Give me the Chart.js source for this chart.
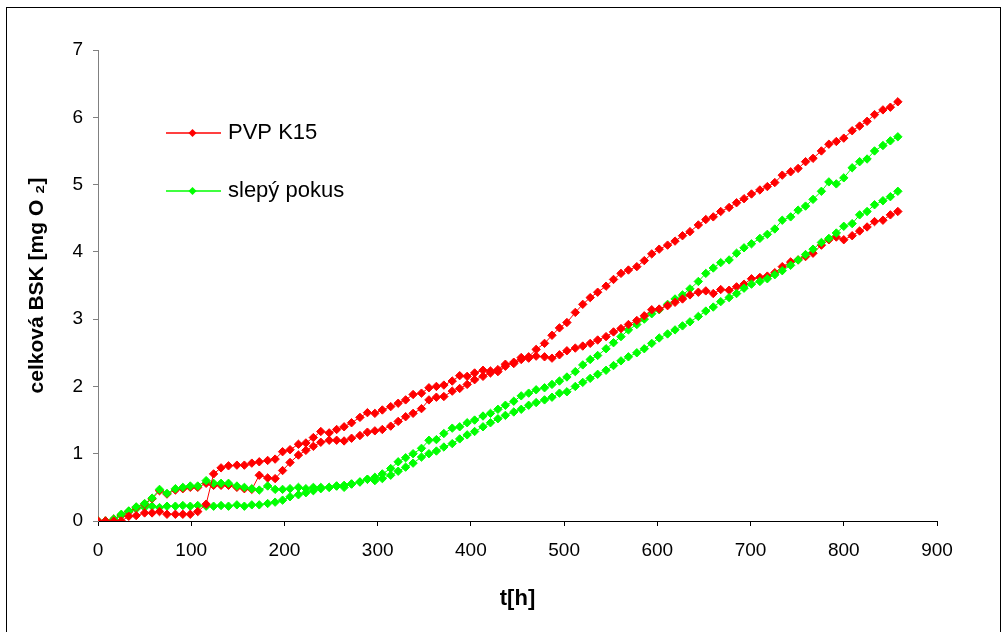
<!DOCTYPE html>
<html>
<head>
<meta charset="utf-8">
<title>celková BSK</title>
<script src="https://cdn.jsdelivr.net/npm/chart.js@4.4.1/dist/chart.umd.min.js"></script>
<style>
    html, body { margin: 0; padding: 0; background: #fff; }
    #frame { position: absolute; left: 6px; top: 7px; width: 995px; height: 660px; border: 1px solid #000; box-sizing: border-box; }
    #wrap { position: absolute; left: 0; top: 0; width: 1006px; height: 632px; }
</style>
</head>
<body>
<div id="frame"></div>
<div id="wrap"><canvas id="bskChart" width="1006" height="632"></canvas></div>
<script>
// čas měření [h]
const hours = [
    0, 8, 17, 25, 33, 41, 50, 58, 66, 74,
    83, 91, 99, 107, 116, 124, 132, 140, 149, 157,
    165, 173, 182, 190, 198, 206, 215, 223, 231, 239,
    248, 256, 264, 272, 281, 289, 297, 305, 314, 322,
    330, 338, 347, 355, 363, 371, 380, 388, 396, 404,
    413, 421, 429, 437, 446, 454, 462, 470, 479, 487,
    495, 503, 512, 520, 528, 536, 545, 553, 561, 569,
    578, 586, 594, 602, 611, 619, 627, 635, 644, 652,
    660, 668, 677, 685, 693, 701, 710, 718, 726, 734,
    743, 751, 759, 767, 776, 784, 792, 800, 809, 817,
    825, 833, 842, 850, 858
];

// PVP K15 - dvě paralelní lahve
const pvpA = [
    0, 0, 0, 0, 0.07, 0.08, 0.12, 0.12, 0.14, 0.10,
    0.10, 0.10, 0.10, 0.14, 0.25, 0.70, 0.79, 0.82, 0.83, 0.83,
    0.86, 0.88, 0.90, 0.92, 1.03, 1.06, 1.14, 1.16, 1.24, 1.33,
    1.31, 1.36, 1.40, 1.46, 1.54, 1.61, 1.60, 1.65, 1.70, 1.75,
    1.80, 1.88, 1.90, 1.98, 2.00, 2.02, 2.08, 2.16, 2.15, 2.20,
    2.24, 2.23, 2.25, 2.33, 2.36, 2.43, 2.44, 2.55, 2.64, 2.76,
    2.87, 2.95, 3.10, 3.22, 3.32, 3.40, 3.49, 3.59, 3.68, 3.73,
    3.78, 3.87, 3.97, 4.04, 4.10, 4.16, 4.24, 4.30, 4.40, 4.48,
    4.52, 4.60, 4.66, 4.73, 4.79, 4.86, 4.92, 4.97, 5.03, 5.14,
    5.19, 5.24, 5.34, 5.39, 5.50, 5.60, 5.64, 5.69, 5.80, 5.87,
    5.94, 6.04, 6.11, 6.15, 6.23
];
const pvpB = [
    0, 0, 0.03, 0.09, 0.14, 0.20, 0.25, 0.33, 0.45, 0.40,
    0.46, 0.48, 0.50, 0.50, 0.56, 0.53, 0.53, 0.53, 0.50, 0.48,
    0.47, 0.68, 0.64, 0.63, 0.75, 0.87, 0.98, 1.05, 1.11, 1.17,
    1.20, 1.20, 1.19, 1.23, 1.27, 1.32, 1.34, 1.36, 1.41, 1.48,
    1.55, 1.60, 1.67, 1.80, 1.84, 1.85, 1.93, 1.97, 2.03, 2.10,
    2.15, 2.20, 2.22, 2.30, 2.34, 2.40, 2.42, 2.45, 2.44, 2.42,
    2.47, 2.53, 2.57, 2.60, 2.64, 2.69, 2.74, 2.81, 2.86, 2.92,
    2.98, 3.05, 3.14, 3.15, 3.20, 3.25, 3.30, 3.36, 3.40, 3.42,
    3.38, 3.44, 3.43, 3.48, 3.52, 3.60, 3.62, 3.64, 3.69, 3.78,
    3.85, 3.88, 3.93, 3.98, 4.10, 4.18, 4.22, 4.18, 4.24, 4.31,
    4.37, 4.45, 4.47, 4.55, 4.60
];

// slepý pokus - dvě paralelní lahve
const blankA = [
    0, 0, 0.02, 0.08, 0.14, 0.18, 0.20, 0.22, 0.20, 0.22,
    0.22, 0.23, 0.22, 0.23, 0.22, 0.22, 0.23, 0.22, 0.24, 0.22,
    0.24, 0.24, 0.26, 0.28, 0.31, 0.36, 0.39, 0.42, 0.45, 0.50,
    0.50, 0.52, 0.53, 0.55, 0.58, 0.62, 0.65, 0.70, 0.78, 0.88,
    0.94, 1.00, 1.08, 1.20, 1.21, 1.30, 1.38, 1.40, 1.46, 1.50,
    1.56, 1.60, 1.66, 1.72, 1.78, 1.86, 1.90, 1.95, 1.98, 2.03,
    2.08, 2.14, 2.22, 2.32, 2.40, 2.46, 2.56, 2.65, 2.74, 2.84,
    2.92, 3.00, 3.08, 3.14, 3.22, 3.30, 3.36, 3.45, 3.56, 3.68,
    3.76, 3.84, 3.88, 3.98, 4.06, 4.12, 4.20, 4.26, 4.34, 4.47,
    4.52, 4.62, 4.68, 4.78, 4.90, 5.04, 5.01, 5.10, 5.25, 5.34,
    5.38, 5.50, 5.58, 5.65, 5.71
];
const blankB = [
    0, 0, 0.03, 0.10, 0.15, 0.21, 0.26, 0.34, 0.47, 0.41,
    0.48, 0.50, 0.52, 0.52, 0.60, 0.56, 0.56, 0.56, 0.52, 0.50,
    0.48, 0.46, 0.52, 0.47, 0.47, 0.48, 0.50, 0.48, 0.50, 0.48,
    0.50, 0.52, 0.50, 0.55, 0.58, 0.62, 0.60, 0.63, 0.68, 0.74,
    0.80, 0.86, 0.95, 1.00, 1.04, 1.10, 1.15, 1.22, 1.28, 1.33,
    1.40, 1.46, 1.52, 1.57, 1.62, 1.66, 1.72, 1.76, 1.80, 1.84,
    1.90, 1.92, 2.00, 2.06, 2.12, 2.18, 2.24, 2.31, 2.38, 2.44,
    2.50, 2.56, 2.64, 2.72, 2.78, 2.84, 2.90, 2.96, 3.04, 3.12,
    3.18, 3.26, 3.32, 3.38, 3.46, 3.52, 3.56, 3.60, 3.66, 3.72,
    3.80, 3.88, 3.96, 4.04, 4.14, 4.20, 4.28, 4.38, 4.42, 4.55,
    4.60, 4.70, 4.76, 4.82, 4.90
];

const seriesNames = ['PVP K15', 'slepý pokus'];
const RED = '#FF0000';
const GREEN = '#00FF00';
const FONT = "'Liberation Sans', Arial, sans-serif";

const toPoints = vals => hours.map((t, i) => ({ x: t, y: vals[i] }));

const lineSeries = (label, vals, color) => ({
    label: label,
    data: toPoints(vals),
    showLine: true,
    borderColor: color,
    backgroundColor: color,
    borderWidth: 1,
    tension: 0,
    pointStyle: 'rectRot',
    pointRadius: 4.2,
    pointBorderWidth: 1,
    pointBorderColor: color,
    pointBackgroundColor: color
});

// vlastní legenda uvnitř grafu
const insideLegend = {
    id: 'insideLegend',
    afterDatasetsDraw(chart) {
        const ctx = chart.ctx;
        const items = [
            { text: seriesNames[0], color: RED, y: 133 },
            { text: seriesNames[1], color: GREEN, y: 191 }
        ];
        ctx.save();
        items.forEach(it => {
            ctx.strokeStyle = it.color;
            ctx.lineWidth = 1.5;
            ctx.beginPath();
            ctx.moveTo(166, it.y);
            ctx.lineTo(221, it.y);
            ctx.stroke();
            ctx.fillStyle = it.color;
            ctx.beginPath();
            ctx.moveTo(192.5, it.y - 4);
            ctx.lineTo(196.5, it.y);
            ctx.lineTo(192.5, it.y + 4);
            ctx.lineTo(188.5, it.y);
            ctx.closePath();
            ctx.fill();
            ctx.fillStyle = '#000';
            ctx.font = '22px ' + FONT;
            ctx.textBaseline = 'middle';
            ctx.fillText(it.text, 228, it.y);
        });
        ctx.restore();
    }
};

new Chart(document.getElementById('bskChart'), {
    type: 'scatter',
    data: {
        datasets: [
            lineSeries(seriesNames[0], pvpA, RED),
            lineSeries(seriesNames[1], blankB, GREEN),
            lineSeries(seriesNames[0], pvpB, RED),
            lineSeries(seriesNames[1], blankA, GREEN)
        ]
    },
    options: {
        responsive: false,
        animation: false,
        layout: { padding: { left: 0, top: 50, right: 69, bottom: 0 } },
        plugins: {
            legend: { display: false },
            tooltip: { enabled: false }
        },
        scales: {
            x: {
                type: 'linear',
                min: 0,
                max: 900,
                ticks: {
                    stepSize: 100,
                    color: '#000',
                    padding: 13,
                    maxRotation: 0,
                    font: { family: FONT, size: 19 }
                },
                grid: { drawOnChartArea: false, drawTicks: true, tickLength: 5, color: '#000' },
                border: { color: '#000', width: 1 },
                title: {
                    display: true,
                    text: 't[h]',
                    color: '#000',
                    font: { family: FONT, size: 22, weight: 'bold' },
                    padding: { top: 0, bottom: 20 }
                },
                afterFit: scale => { scale.height = 111; }
            },
            y: {
                min: 0,
                max: 7,
                ticks: {
                    stepSize: 1,
                    color: '#000',
                    padding: 10,
                    font: { family: FONT, size: 19 }
                },
                grid: { drawOnChartArea: false, drawTicks: true, tickLength: 5, color: '#808080' },
                border: { color: '#808080', width: 1 },
                title: {
                    display: true,
                    text: 'celková BSK [mg O ₂]',
                    color: '#000',
                    font: { family: FONT, size: 21, weight: 'bold' },
                    padding: { top: 25, bottom: 0 }
                },
                afterFit: scale => { scale.width = 98; }
            }
        }
    },
    plugins: [insideLegend]
});
</script>
</body>
</html>
